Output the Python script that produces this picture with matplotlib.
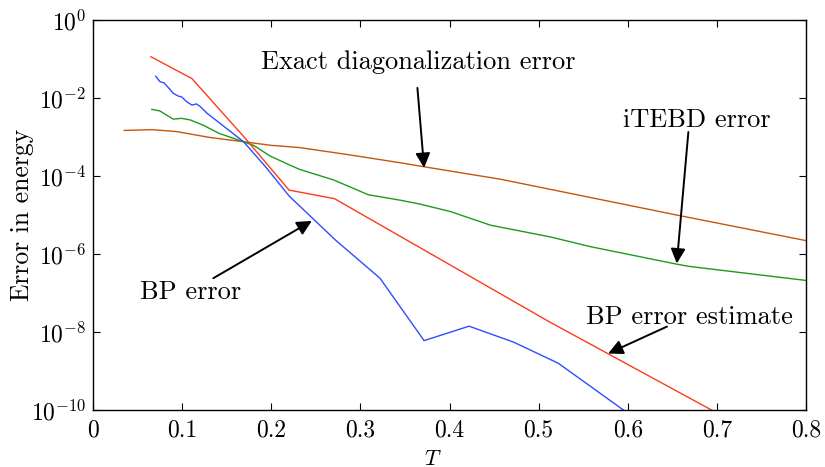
import numpy as np
import matplotlib
matplotlib.use("Agg")
import matplotlib.pyplot as plt
from matplotlib.ticker import NullLocator

plt.rcParams['font.family'] = ['cmr10', 'DejaVu Serif']
plt.rcParams['mathtext.fontset'] = 'cm'
plt.rcParams['axes.unicode_minus'] = False

# exact diagonalization error
t_ed = [0.035, 0.066, 0.094, 0.131, 0.169, 0.199, 0.232, 0.289, 0.345, 0.371, 0.457, 0.513, 0.655, 0.801]
e_ed = [-2.83, -2.81, -2.86, -3.01, -3.12, -3.21, -3.27, -3.46, -3.66, -3.76, -4.08, -4.34, -5.00, -5.66]

# iTEBD error
t_it = [0.066, 0.075, 0.090, 0.0995, 0.109, 0.124, 0.142, 0.165, 0.18, 0.199, 0.221, 0.232, 0.27, 0.309,
        0.345, 0.367, 0.401, 0.446, 0.513, 0.558, 0.655, 0.67, 0.801]
e_it = [-2.29, -2.33, -2.54, -2.52, -2.56, -2.70, -2.91, -3.09, -3.21, -3.49, -3.72, -3.83, -4.10, -4.48,
        -4.62, -4.72, -4.91, -5.26, -5.56, -5.81, -6.26, -6.32, -6.68]

# BP error
t_bp = [0.0704, 0.0752, 0.0797, 0.0845, 0.0902, 0.0958, 0.0995, 0.105, 0.111, 0.116, 0.120, 0.128,
        0.169, 0.195, 0.220, 0.272, 0.322, 0.3715, 0.422, 0.472, 0.522, 0.569, 0.600, 0.62]
e_bp = [-1.44, -1.58, -1.61, -1.73, -1.88, -1.95, -1.97, -2.09, -2.18, -2.15, -2.21, -2.39,
        -3.12, -3.80, -4.51, -5.64, -6.62, -8.22, -7.85, -8.26, -8.80, -9.57, -10.08, -10.5]

# BP error estimate
t_est = [0.065, 0.111, 0.170, 0.220, 0.271, 0.513, 0.694, 0.72]
e_est = [-0.94, -1.50, -3.01, -4.36, -4.58, -7.75, -10.0, -10.35]

yticks = [1e0, 1e-2, 1e-4, 1e-6, 1e-8, 1e-10]
ylabels = [r'$10^{0}$', r'$10^{-2}$', r'$10^{-4}$', r'$10^{-6}$', r'$10^{-8}$', r'$10^{-10}$']
xticks = [0, 0.1, 0.2, 0.3, 0.4, 0.5, 0.6, 0.7, 0.8]

fig = plt.figure(figsize=(8.25, 4.67), dpi=100)
ax = fig.add_axes([0.1127, 0.122, 0.8643, 0.835])

ax.semilogy(t_ed, 10.0 ** np.array(e_ed), color='#c4570e', lw=1.0)
ax.semilogy(t_it, 10.0 ** np.array(e_it), color='#1e9a1e', lw=1.0)
ax.semilogy(t_est, 10.0 ** np.array(e_est), color='#ff3a1a', lw=1.0)
ax.semilogy(t_bp, 10.0 ** np.array(e_bp), color='#2e4dff', lw=1.0)

ax.set_xlim(0, 0.8)
ax.set_ylim(1e-10, 1e0)
ax.set_yticks(yticks)
ax.set_yticklabels(ylabels)
ax.yaxis.set_minor_locator(NullLocator())
ax.set_xticks(xticks)
ax.set_xticklabels(['0', '0.1', '0.2', '0.3', '0.4', '0.5', '0.6', '0.7', '0.8'])
ax.tick_params(direction='in', length=5, width=0.8, top=True, right=True, labelsize=17)
ax.tick_params(axis='x', pad=7)
ax.tick_params(axis='y', pad=5)
for s in ax.spines.values():
    s.set_linewidth(1.0)

ax.set_xlabel(r'$T$', fontsize=16)
ax.xaxis.set_label_coords(0.476, -0.1)
ax.set_ylabel('Error in energy', fontsize=18.5)
ax.yaxis.set_label_coords(-0.083, 0.5)

arrow = dict(arrowstyle='-|>', mutation_scale=22, lw=1.4, color='k', shrinkA=0, shrinkB=0)

ax.text(0.365, 10 ** -1.08, 'Exact diagonalization error', fontsize=19, ha='center', va='center')
ax.annotate('', xy=(0.3715, 10 ** -3.79), xytext=(0.364, 10 ** -1.74), arrowprops=arrow)

ax.text(0.678, 10 ** -2.56, 'iTEBD error', fontsize=19, ha='center', va='center')
ax.annotate('', xy=(0.655, 10 ** -6.24), xytext=(0.668, 10 ** -2.87), arrowprops=arrow)

ax.text(0.109, 10 ** -6.97, 'BP error', fontsize=19, ha='center', va='center')
ax.annotate('', xy=(0.2455, 10 ** -5.15), xytext=(0.135, 10 ** -6.62), arrowprops=arrow)

ax.text(0.669, 10 ** -7.62, 'BP error estimate', fontsize=19, ha='center', va='center')
ax.annotate('', xy=(0.578, 10 ** -8.55), xytext=(0.644, 10 ** -7.86), arrowprops=arrow)

fig.savefig('out.png', dpi=100)
